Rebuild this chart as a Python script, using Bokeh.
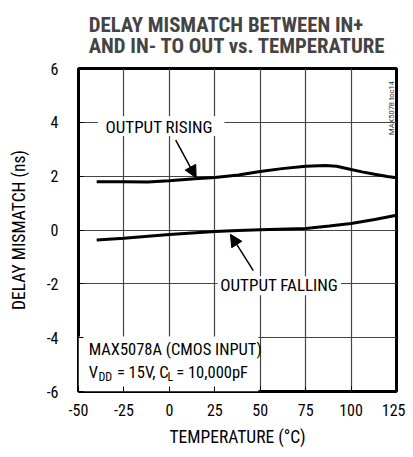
import math
from bokeh.plotting import figure
from bokeh.models import Label, Arrow, NormalHead, FixedTicker, Range1d, Title
from bokeh.embed import file_html
from bokeh.resources import INLINE

# ---- data ----
rise_temp = [-40, -25, -12, 0, 14, 25, 38, 50, 62, 75, 86, 92, 100, 106, 113, 120, 125]
rise_val = [1.79, 1.79, 1.78, 1.83, 1.90, 1.95, 2.04, 2.17, 2.28, 2.37, 2.40, 2.37, 2.25, 2.16, 2.07, 1.99, 1.94]

fall_temp = [-40, -25, 0, 25, 38, 50, 75, 88, 100, 113, 125]
fall_val = [-0.37, -0.31, -0.17, -0.06, -0.02, 0.01, 0.06, 0.15, 0.24, 0.39, 0.55]

x_ticks = [-50, -25, 0, 25, 50, 75, 100, 125]
y_ticks = [-6, -4, -2, 0, 2, 4, 6]
x_tick_labels = ["-50", "-25", "0", "25", "50", "75", "100", "125"]
y_tick_labels = ["-6", "-4", "-2", "0", "2", "4", "6"]

FONT = "Roboto Condensed"

p = figure(width=405, height=449,
           x_range=Range1d(-50, 125), y_range=Range1d(-6, 6),
           output_backend="svg", toolbar_location=None,
           min_border_left=78, min_border_right=9,
           min_border_top=62, min_border_bottom=0,
           background_fill_color="white", border_fill_color="white")

p.outline_line_color = "black"
p.outline_line_width = 3

for ax, ticks, labels in ((p.xaxis[0], x_ticks, x_tick_labels), (p.yaxis[0], y_ticks, y_tick_labels)):
    ax.ticker = FixedTicker(ticks=ticks)
    ax.major_label_overrides = {t: s for t, s in zip(ticks, labels)}
    ax.major_tick_in = 5
    ax.major_tick_out = 0
    ax.minor_tick_line_color = None
    ax.axis_line_color = None
    ax.major_tick_line_color = "black"
    ax.major_tick_line_width = 1
    ax.major_label_text_font = FONT
    ax.major_label_text_font_size = "16px"
    ax.major_label_text_color = "black"
    ax.axis_label_text_font = FONT
    ax.axis_label_text_font_size = "17.5px"
    ax.axis_label_text_font_style = "normal"
    ax.axis_label_text_color = "black"

p.xaxis.axis_label = "TEMPERATURE (°C)"
p.yaxis.axis_label = "DELAY MISMATCH (ns)"
p.xaxis.major_label_standoff = 12
p.xaxis.axis_label_standoff = 8
p.yaxis.major_label_standoff = 20
p.yaxis.axis_label_standoff = 15

p.grid.grid_line_color = "#444444"
p.grid.grid_line_alpha = 1.0
p.grid.grid_line_width = 1.2

p.add_layout(Title(text="DELAY MISMATCH BETWEEN IN+\nAND IN- TO OUT vs. TEMPERATURE",
                   text_font=FONT, text_font_size="20.8px", text_line_height=0.9,
                   text_font_style="bold", align="center", standoff=20, offset=4), "above")

# white masks behind annotation texts
p.quad(left=[-39.3], right=[30.3], top=[4.23], bottom=[3.49], fill_color="white", line_color=None)
p.quad(left=[26.5], right=[94.5], top=[-1.72], bottom=[-2.42], fill_color="white", line_color=None)
p.quad(left=[-50], right=[49.0], top=[-3.96], bottom=[-6], fill_color="white", line_color=None)

p.line(rise_temp, rise_val, line_color="black", line_width=3)
p.line(fall_temp, fall_val, line_color="black", line_width=3)

def lab(x, y, text, size="17px", align="left", angle=0, font=FONT, color="black"):
    p.add_layout(Label(x=x, y=y, text=text, text_font=font, text_font_size=size, angle=angle,
                       text_align=align, text_baseline="middle", text_color=color))

lab(-5.6, 3.82, "OUTPUT RISING", align="center")
lab(60.5, -2.06, "OUTPUT FALLING", align="center")

lab(-44.4, -4.43, "MAX5078A (CMOS INPUT)", size="16.5px")
lab(-44.4, -5.30, "V", size="16.5px")
lab(-39.03, -5.47, "DD", size="12px")
lab(-28.86, -5.30, "= 15V, C", size="16.5px")
lab(-1.0, -5.47, "L", size="12px")
lab(3.8, -5.30, "= 10,000pF", size="16.5px")

lab(122.3, 3.53, "MAX5078 toc14", size="7.5px", angle=math.pi / 2, font="Roboto", color="#333333")

p.add_layout(Arrow(x_start=3.5, y_start=3.34, x_end=14.75, y_end=1.94, line_width=1.5, line_color="black",
                   end=NormalHead(size=12, fill_color="black", line_color="black")))
p.add_layout(Arrow(x_start=46.2, y_start=-1.51, x_end=33.6, y_end=-0.16, line_width=1.5, line_color="black",
                   end=NormalHead(size=12, fill_color="black", line_color="black")))

open("out.html", "w").write(file_html(p, INLINE))
